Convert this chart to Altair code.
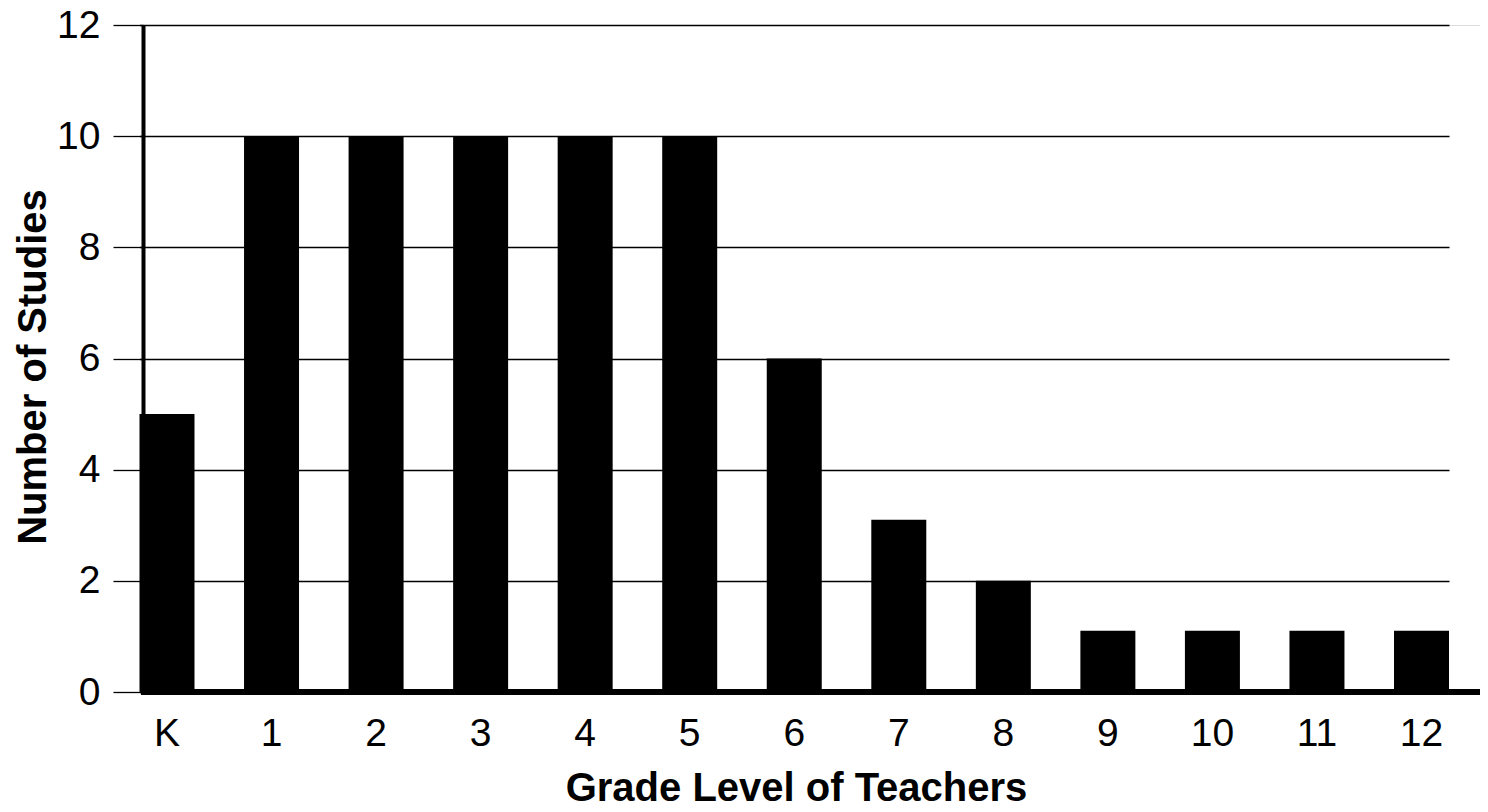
import altair as alt
import pandas as pd

grades = ["K", "1", "2", "3", "4", "5", "6", "7", "8", "9", "10", "11", "12"]
studies = [5, 10, 10, 10, 10, 10, 6, 3.1, 2, 1.1, 1.1, 1.1, 1.1]
y_ticks = [0, 2, 4, 6, 8, 10, 12]

df = pd.DataFrame({"grade": grades, "studies": studies})
baseline_df = pd.DataFrame({"zero": [0]})

FONT = "Liberation Sans"
W, H = 1337, 667

bars = alt.Chart(df).mark_bar(color="black").encode(
    x=alt.X(
        "grade:N",
        sort=grades,
        scale=alt.Scale(range=[-3.5, 1306], paddingInner=0.474, paddingOuter=0),
        axis=alt.Axis(
            title="Grade Level of Teachers",
            labelAngle=0,
            ticks=False,
            tickSize=0,
            domain=False,
            labelPadding=22,
            labelFontSize=39,
            labelFont=FONT,
            labelColor="black",
            titleFont=FONT,
            titleFontSize=40,
            titleFontWeight="bold",
            titleColor="black",
            titleX=653,
            titleY=108,
            titleBaseline="alphabetic",
            titleAlign="center",
            grid=False,
        ),
    ),
    y=alt.Y(
        "studies:Q",
        scale=alt.Scale(domain=[0, 12], nice=False, zero=True),
        axis=alt.Axis(
            title="Number of Studies",
            values=y_ticks,
            format="d",
            labelFontSize=39,
            labelFont=FONT,
            labelColor="black",
            labelPadding=13,
            tickSize=30,
            tickColor="black",
            tickWidth=1.3,
            domainColor="black",
            domainWidth=4,
            grid=True,
            gridColor="black",
            gridWidth=1.3,
            gridOpacity=1,
            titleFont=FONT,
            titleFontSize=40,
            titleFontWeight="bold",
            titleColor="black",
            titleAngle=270,
            titleX=-110,
            titleY=341.5,
            titleBaseline="middle",
            titleAlign="center",
        ),
    ),
)

x_line = alt.Chart(baseline_df).mark_rule(color="black", strokeWidth=6).encode(
    y=alt.datum(0),
    x=alt.value(-2),
    x2=alt.value(W),
)

chart = alt.layer(bars, x_line).properties(
    width=W,
    height=H,
    padding={"left": 135, "top": 17, "right": 0, "bottom": 112},
    autosize=alt.AutoSizeParams(type="none"),
).configure_view(stroke=None).configure(background="white")

chart.save("out.html", embed_options={"renderer": "svg", "actions": False})
